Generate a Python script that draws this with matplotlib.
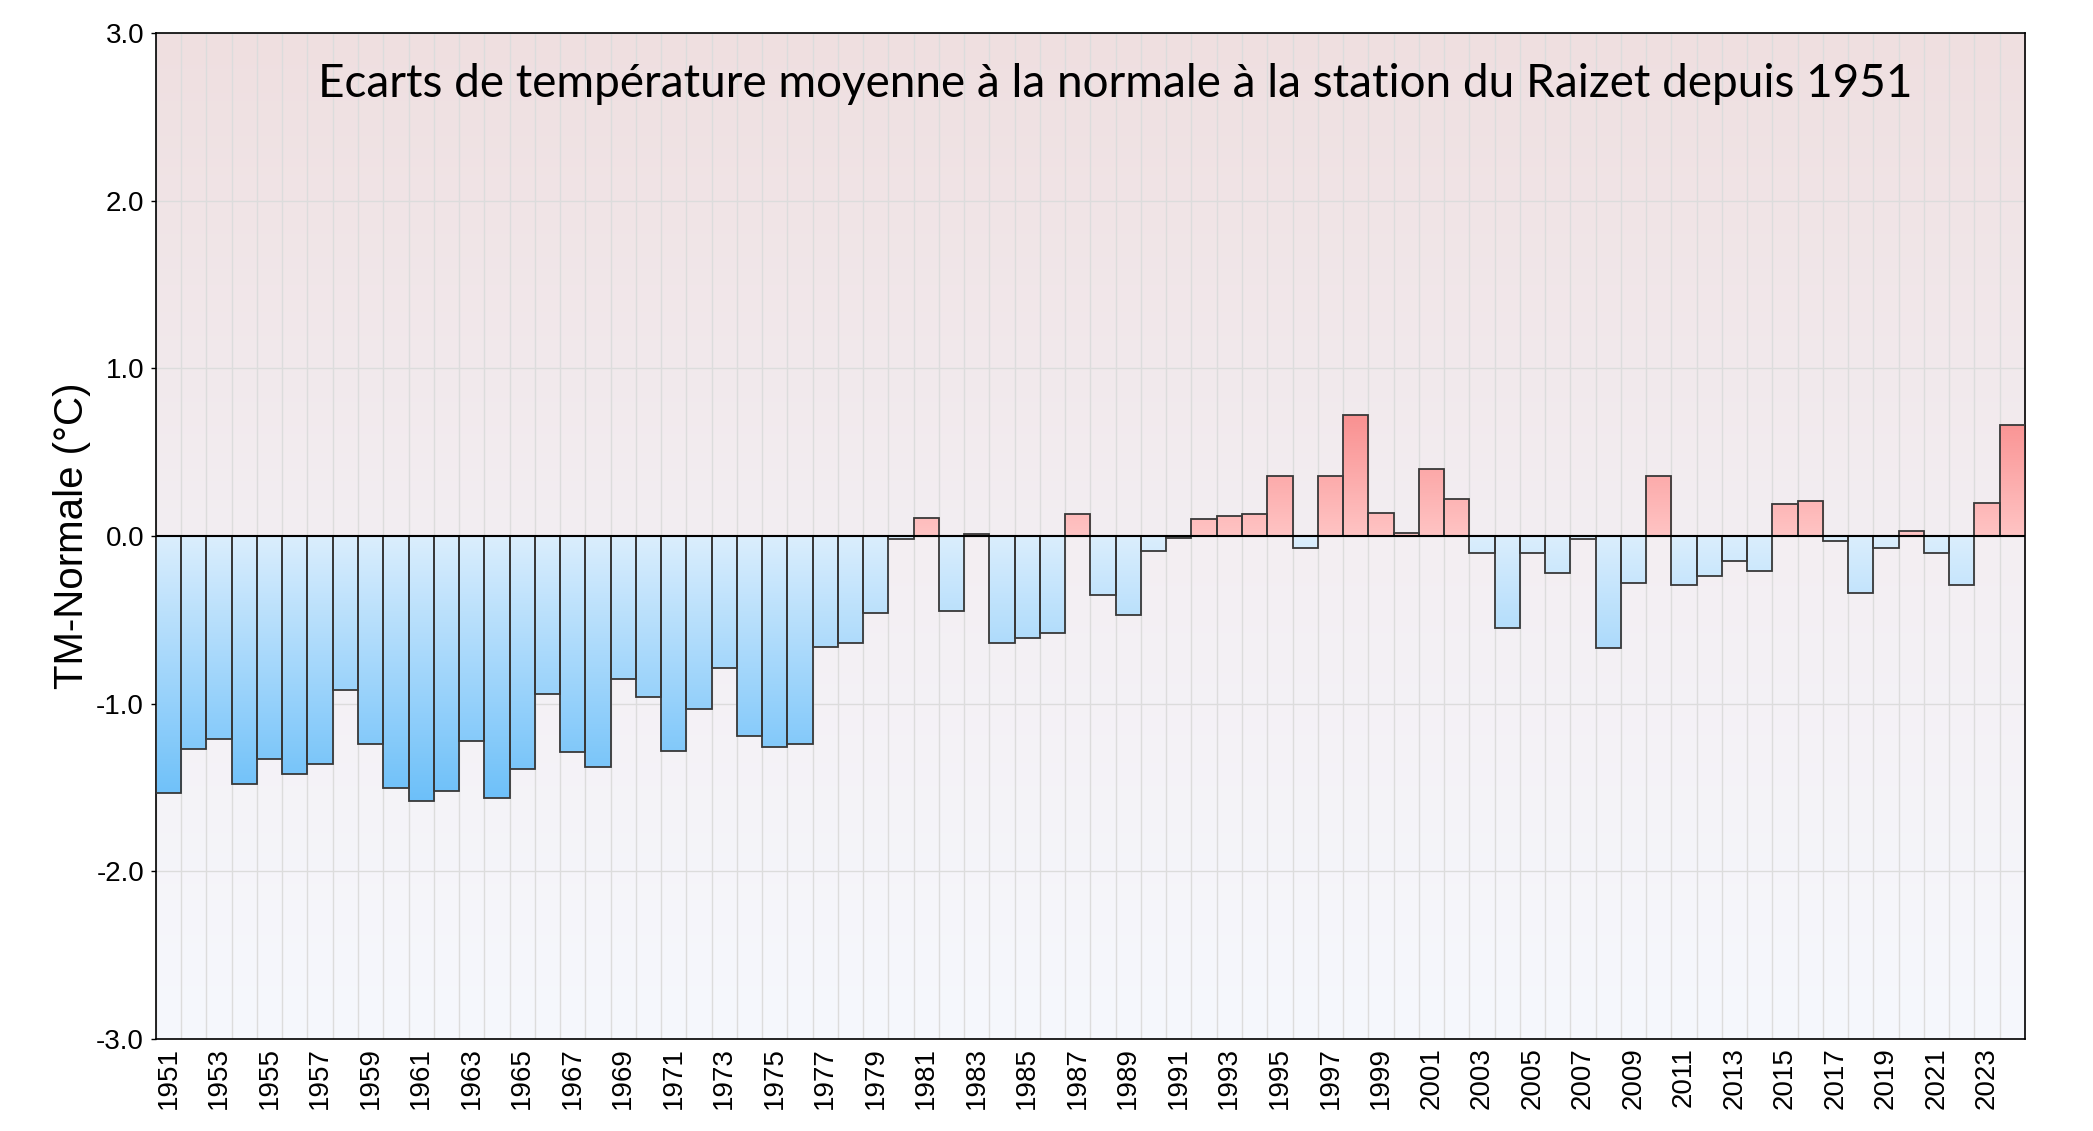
import numpy
import matplotlib
matplotlib.use("Agg")
from matplotlib import pyplot
from matplotlib.colors import LinearSegmentedColormap

# -----------------------------------------------------------------------------
# data: annual mean temperature anomaly at Le Raizet (degC)
years = list(range(1951, 2025))
anomalies = [
    -1.53, -1.27, -1.21, -1.48, -1.33, -1.42, -1.36, -0.92, -1.24, -1.50,
    -1.58, -1.52, -1.22, -1.56, -1.39, -0.94, -1.29, -1.38, -0.85, -0.96,
    -1.28, -1.03, -0.79, -1.19, -1.26, -1.24, -0.66, -0.64, -0.46, -0.02,
    0.11, -0.45, 0.01, -0.64, -0.61, -0.58, 0.13, -0.35, -0.47, -0.09,
    -0.01, 0.10, 0.12, 0.13, 0.36, -0.07, 0.36, 0.72, 0.14, 0.02,
    0.40, 0.22, -0.10, -0.55, -0.10, -0.22, -0.02, -0.67, -0.28, 0.36,
    -0.29, -0.24, -0.15, -0.21, 0.19, 0.21, -0.03, -0.34, -0.07, 0.03,
    -0.10, -0.29, 0.20, 0.66,
]
tick_years = years[::2]
yticks = [-3.0, -2.0, -1.0, 0.0, 1.0, 2.0, 3.0]
title = "Ecarts de température moyenne à la normale à la station du Raizet depuis 1951"
ylabel = "TM-Normale (°C)"

# -----------------------------------------------------------------------------
pyplot.rcParams['axes.unicode_minus'] = False
pyplot.rcParams['font.family'] = ['Liberation Sans', 'DejaVu Sans']

fig = pyplot.figure(figsize=(20.93, 11.31), dpi=100)
ax = fig.add_axes([0.0745, 0.0813, 0.893, 0.8895])

xmin, xmax = years[0] - 0.5, years[-1] + 0.5
ymin, ymax = -3.0, 3.0

# background gradient (pink on top, pale blue at the bottom)
bg_cmap = LinearSegmentedColormap.from_list('bg', ['#f6f8fd', '#f3eef2', '#efdfe0'])
bg = numpy.linspace(0, 1, 256).reshape(-1, 1)
ax.imshow(bg, extent=[xmin, xmax, ymin, ymax], origin='lower', aspect='auto',
          cmap=bg_cmap, zorder=-2, interpolation='bilinear')

# bars with vertical gradient fills
blue_cmap = LinearSegmentedColormap.from_list('blue', ['#dbeefd', '#6bbff9'])
red_cmap = LinearSegmentedColormap.from_list('red', ['#ffc4c4', '#f98f8f'])
bars = ax.bar(years, anomalies, width=1.0, facecolor='none',
              edgecolor='#383838', linewidth=1.3, zorder=3)
grad = numpy.linspace(0, 1, 256).reshape(-1, 1)
for year, val, bar in zip(years, anomalies, bars):
    if val < 0:
        im = ax.imshow(grad, extent=[year - 0.5, year + 0.5, 0, -1.6],
                       origin='lower', aspect='auto', cmap=blue_cmap, zorder=2)
    else:
        im = ax.imshow(grad, extent=[year - 0.5, year + 0.5, 0, 0.75],
                       origin='lower', aspect='auto', cmap=red_cmap, zorder=2)
    im.set_clip_path(bar)

ax.set_xlim(xmin, xmax)
ax.set_ylim(ymin, ymax)
ax.axhline(0, color='black', linewidth=1.5, zorder=4)

# ticks and grid
ax.set_xticks(tick_years)
ax.set_xticklabels([str(y) for y in tick_years], rotation=90, fontsize=20)
ax.set_xticks(numpy.arange(xmin, xmax + 0.5, 1.0), minor=True)
ax.tick_params(axis='x', which='both', length=0, pad=6)
ax.set_yticks(yticks)
ax.set_yticklabels(['%.1f' % v for v in yticks], fontsize=20)
ax.tick_params(axis='y', length=3.5, width=1, pad=5)

ax.set_axisbelow(True)
ax.grid(axis='x', which='minor', color='#dcdcdc', linewidth=1.0)
ax.grid(axis='y', which='major', color='#dcdcdc', linewidth=1.0)

for s in ax.spines.values():
    s.set_color('black')
    s.set_linewidth(1.2)

ax.set_ylabel(ylabel, fontsize=29)
ax.yaxis.set_label_coords(-0.035, 0.5)
ax.text(0.513, 0.949, title, transform=ax.transAxes, ha='center', va='center',
        fontsize=33, family=['Lato', 'DejaVu Sans'], zorder=5)

fig.savefig('out.png', dpi=100)
